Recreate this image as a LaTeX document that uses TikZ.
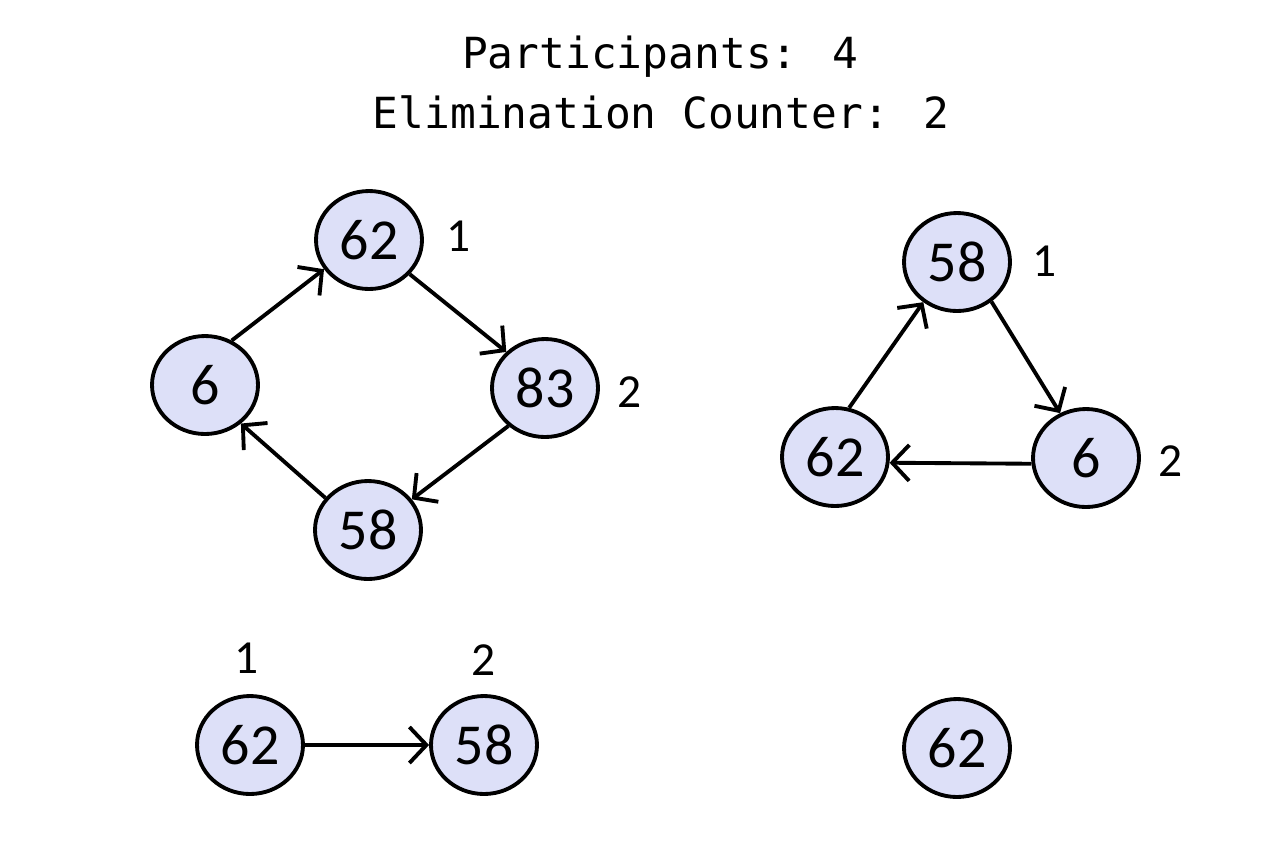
\documentclass[tikz,border=0pt]{standalone}
\usepackage{fontspec}
\setmainfont{Carlito}
\newfontfamily\titlefont{DejaVu Sans Mono}
\usetikzlibrary{shapes.geometric}
\usetikzlibrary{arrows.meta}
\definecolor{nodefill}{RGB}{221,224,248}

\begin{document}
\begin{tikzpicture}[x=0.02cm, y=-0.02cm,
    >={Straight Barb[length=0.34cm, width=0.72cm]},
    nodo/.style={draw, ellipse, fill=nodefill, line width=2.2pt,
      minimum width=2.12cm, minimum height=1.96cm, inner sep=0pt,
      font=\fontsize{33}{36}\selectfont},
    etiqueta/.style={inner sep=0pt, font=\fontsize{27}{30}\selectfont},
    arista/.style={->, line width=2.2pt}]
            \useasboundingbox (0,0) rectangle (1277,867);
            % Titulo
            \node[anchor=base, font=\titlefont\fontsize{24.4}{28}\selectfont] (titulo1) at (660,68) {Participants: 4};
            \node[anchor=base, font=\titlefont\fontsize{24.4}{28}\selectfont] (titulo2) at (661,128) {Elimination Counter: 2};

            % Nodos
            \node[nodo] (a62) at (369,240) {62};
            \node[nodo] (a6) at (205,385) {6};
            \node[nodo] (a83) at (545,388) {83};
            \node[nodo] (a58) at (368,530) {58};
            \node[nodo] (b58) at (957,262) {58};
            \node[nodo] (b62) at (835,457) {62};
            \node[nodo] (b6) at (1086,458) {6};
            \node[nodo] (c62) at (250,745) {62};
            \node[nodo] (c58) at (484,745) {58};
            \node[nodo] (d62) at (957,748) {62};

            % Etiquetas
            \node[etiqueta] (la1) at (459,236) {1};
            \node[etiqueta] (la2) at (630,392) {2};
            \node[etiqueta] (lb1) at (1045,261) {1};
            \node[etiqueta] (lb2) at (1171,461) {2};
            \node[etiqueta] (lc1) at (247,658) {1};
            \node[etiqueta] (lc2) at (484,660) {2};

            % Aristas
            \draw[arista] (a6.59) -- (a62.213);
            \draw[arista] (a62.320) -- (a83.137);
            \draw[arista] (a83.226) -- (a58.35);
            \draw[arista] (a58.143) -- (a6.313);
            \draw[arista] (b62.74) -- (b58.230);
            \draw[arista] (b58.311) -- (b6.120);
            \draw[arista] (b6.186) -- (b62.354);
            \draw[arista] (c62) -- (c58);
          \end{tikzpicture}
\end{document}
